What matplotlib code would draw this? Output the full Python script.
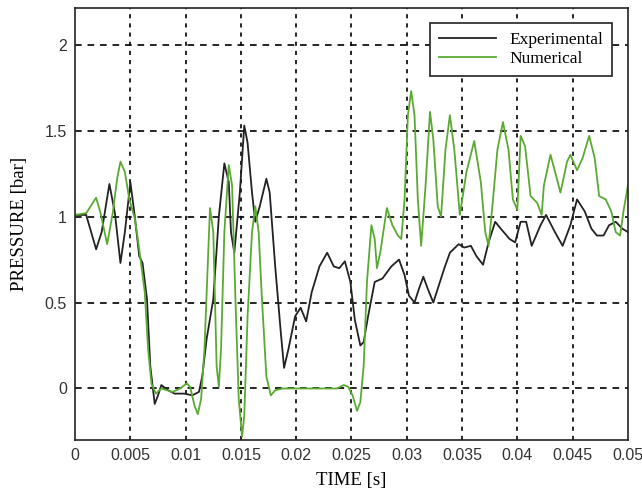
'''Pressure vs time: experimental and numerical traces'''
import matplotlib
matplotlib.use("Agg")
import matplotlib.pyplot as plt

# Experimental trace (time in ms, pressure in bar)
exp_t = [0.0, 1.0, 1.9, 2.4, 3.1, 3.6, 4.1, 4.5, 5.0, 5.4, 5.8, 6.1, 6.5, 6.8,
         7.2, 7.5, 7.8, 8.4, 9.0, 9.9, 10.6, 11.2, 11.5, 11.9, 12.5, 13.0, 13.5,
         13.9, 14.1, 14.4, 14.9, 15.3, 15.6, 16.0, 16.3, 16.7, 17.3, 17.6, 18.1,
         18.6, 18.9, 19.3, 19.9, 20.4, 20.9, 21.4, 22.1, 22.8, 23.4, 23.9, 24.4,
         24.9, 25.3, 25.8, 26.1, 26.5, 27.1, 27.8, 28.6, 29.3, 29.8, 30.2, 30.7,
         31.1, 31.5, 31.9, 32.4, 32.8, 33.4, 33.9, 34.7, 35.2, 35.8, 36.3, 36.9,
         37.4, 38.0, 38.5, 39.3, 39.8, 40.3, 40.8, 41.3, 42.1, 42.6, 43.4, 44.1,
         44.8, 45.4, 46.1, 46.7, 47.2, 47.8, 48.3, 48.9, 49.5, 50.0]
exp_p = [1.01, 1.01, 0.81, 0.91, 1.19, 1.02, 0.73, 0.91, 1.20, 1.00, 0.77, 0.73,
         0.52, 0.13, -0.09, -0.04, 0.02, -0.01, -0.03, -0.03, -0.04, -0.02, 0.07,
         0.29, 0.52, 1.00, 1.31, 1.20, 0.91, 0.79, 1.14, 1.53, 1.43, 1.14, 0.97,
         1.06, 1.22, 1.14, 0.71, 0.33, 0.12, 0.23, 0.42, 0.47, 0.39, 0.56, 0.71,
         0.79, 0.71, 0.70, 0.74, 0.62, 0.40, 0.25, 0.27, 0.42, 0.62, 0.64, 0.71,
         0.75, 0.66, 0.54, 0.50, 0.58, 0.65, 0.58, 0.50, 0.58, 0.70, 0.79, 0.84,
         0.82, 0.83, 0.77, 0.72, 0.85, 0.97, 0.93, 0.87, 0.85, 0.97, 0.97, 0.83,
         0.95, 1.01, 0.91, 0.83, 0.95, 1.10, 1.03, 0.93, 0.89, 0.89, 0.95, 0.97,
         0.93, 0.91]

# Numerical trace
num_t = [0.0, 1.0, 1.6, 1.9, 2.3, 2.9, 3.4, 3.8, 4.1, 4.5, 4.9, 5.4, 5.8, 6.3,
         6.6, 6.9, 7.3, 7.8, 8.8, 9.5, 10.1, 10.4, 10.8, 11.1, 11.4, 11.7, 12.2,
         12.5, 12.8, 13.0, 13.2, 13.5, 13.9, 14.2, 14.5, 14.8, 15.1, 15.3, 15.6,
         16.0, 16.3, 16.6, 16.9, 17.3, 17.7, 18.1, 18.8, 23.2, 23.7, 24.3, 24.7,
         25.1, 25.5, 25.8, 26.1, 26.4, 26.8, 27.1, 27.3, 27.6, 28.2, 28.7, 29.2,
         29.5, 29.8, 30.1, 30.4, 30.7, 31.0, 31.3, 31.7, 32.1, 32.4, 32.8, 33.1,
         33.5, 33.9, 34.3, 34.8, 35.4, 36.1, 36.7, 37.1, 37.4, 37.8, 38.2, 38.7,
         39.2, 39.6, 40.0, 40.3, 40.7, 41.2, 41.8, 42.2, 42.4, 43.0, 43.5, 43.9,
         44.5, 44.8, 45.4, 45.9, 46.5, 47.0, 47.4, 48.0, 48.5, 48.9, 49.3, 49.6,
         50.0]
num_p = [1.01, 1.02, 1.08, 1.11, 1.02, 0.84, 1.02, 1.22, 1.32, 1.26, 1.10, 0.99,
         0.81, 0.56, 0.23, 0.03, -0.03, 0.00, -0.02, 0.00, 0.03, 0.01, -0.10,
         -0.15, -0.06, 0.23, 1.05, 0.91, 0.13, 0.01, 0.23, 0.91, 1.30, 1.18, 0.52,
         -0.06, -0.28, -0.16, 0.42, 0.91, 1.06, 0.91, 0.52, 0.07, -0.04, -0.01,
         0.00, 0.00, 0.00, 0.02, 0.01, -0.04, -0.13, -0.08, 0.13, 0.62, 0.95, 0.87,
         0.70, 0.79, 1.05, 0.95, 0.89, 0.87, 1.10, 1.59, 1.73, 1.59, 1.10, 0.83,
         1.18, 1.61, 1.45, 1.06, 1.00, 1.39, 1.59, 1.39, 1.01, 1.26, 1.44, 1.20,
         0.91, 0.83, 1.10, 1.39, 1.55, 1.39, 1.10, 1.04, 1.47, 1.41, 1.12, 1.08,
         1.01, 1.18, 1.36, 1.24, 1.14, 1.32, 1.36, 1.27, 1.34, 1.47, 1.34, 1.12,
         1.10, 1.03, 0.91, 0.89, 1.03, 1.18]

x_ticks = [0, 0.005, 0.01, 0.015, 0.02, 0.025, 0.03, 0.035, 0.04, 0.045, 0.05]
x_labels = ["0", "0.005", "0.01", "0.015", "0.02", "0.025", "0.03", "0.035",
            "0.04", "0.045", "0.05"]
y_ticks = [0, 0.5, 1, 1.5, 2]
y_labels = ["0", "0.5", "1", "1.5", "2"]

fig = plt.figure(figsize=(6.42, 4.9), dpi=100)
ax = fig.add_axes([0.117, 0.102, 0.861, 0.882])

#Time is plotted in seconds
ax.plot([t / 1000 for t in exp_t], exp_p, color="#222222", lw=1.3,
        label="Experimental")
ax.plot([t / 1000 for t in num_t], num_p, color="#5aaa32", lw=1.3,
        label="Numerical")

ax.set_xlim(0, 0.05)
ax.set_ylim(-0.3, 2.215)
ax.set_xticks(x_ticks)
ax.set_xticklabels(x_labels, family="Liberation Sans", fontsize=11.5)
ax.set_yticks(y_ticks)
ax.set_yticklabels(y_labels, family="Liberation Sans", fontsize=11.5)
ax.tick_params(length=0, pad=6, colors="#333333")

#Dashed grid in black, vertical lines a bit finer
for xt in x_ticks[1:-1]:
    ax.axvline(xt, color="black", lw=1.2, ls=(0, (2.5, 3)), zorder=0.5)
for yt in y_ticks:
    ax.axhline(yt, color="black", lw=1.2, ls=(0, (4, 3.5)), zorder=0.5)

for sp in ax.spines.values():
    sp.set_linewidth(1.2)
    sp.set_color("#222222")

ax.set_xlabel("TIME [s]", family="Liberation Serif", fontsize=13.5, labelpad=6)
ax.set_ylabel("PRESSURE [bar]", family="Liberation Serif", fontsize=13.5,
              labelpad=12)

leg = ax.legend(loc="upper right", bbox_to_anchor=(0.978, 0.972),
                prop={"family": "Liberation Serif", "size": 12.5},
                fancybox=False, edgecolor="#222222", framealpha=1,
                handlelength=3.3, borderpad=0.5, labelspacing=0.15,
                handletextpad=0.8, borderaxespad=0.2)
leg.get_frame().set_linewidth(1.2)

plt.savefig("out.png", dpi=100)
plt.close()
